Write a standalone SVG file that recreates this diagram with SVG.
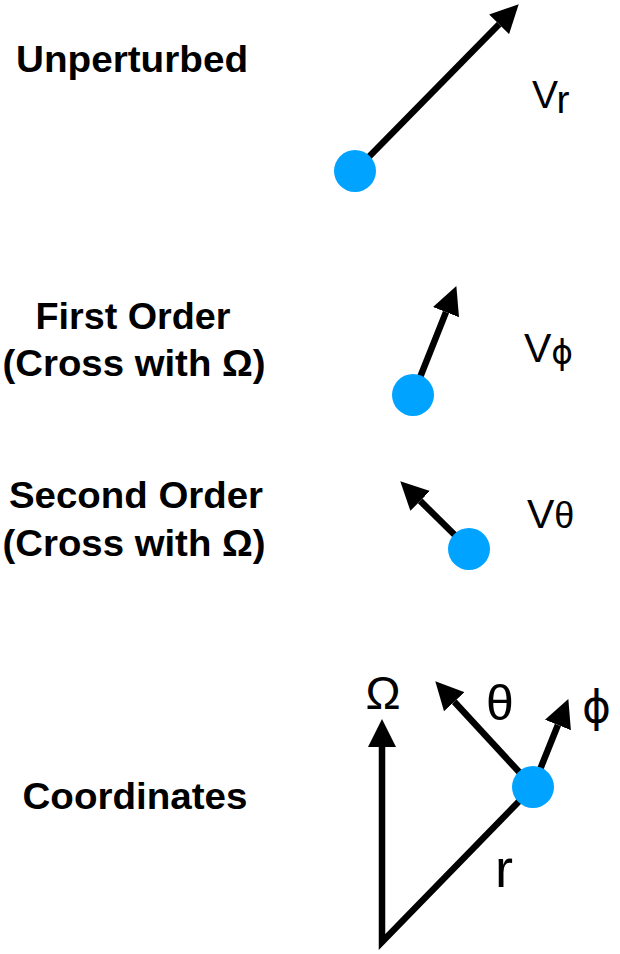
<svg xmlns="http://www.w3.org/2000/svg" width="620" height="954" viewBox="0 0 620 954">
<style>
.lbl{font-family:"Liberation Sans",Arial,sans-serif;font-weight:bold;font-size:36px;fill:#000;text-anchor:middle}
.sym{font-family:"Liberation Sans",Arial,sans-serif;font-weight:normal;fill:#000}
.phi{font-family:"DejaVu Sans","Liberation Sans",sans-serif;font-weight:normal}
.ln{stroke:#000;stroke-width:6.5;fill:none;stroke-linejoin:miter;stroke-miterlimit:10}
.dot{fill:#00a3ff}
</style>
<defs>
<marker id="ah" markerUnits="userSpaceOnUse" markerWidth="28" markerHeight="28" viewBox="0 0 27 27" refX="0" refY="13.5" orient="auto">
<path d="M0,0 L27,13.5 L0,27 z" fill="#000"/>
</marker>
</defs>
<g id="labels">
<text class="lbl" x="132" y="72" textLength="232" lengthAdjust="spacingAndGlyphs">Unperturbed</text>
<text class="lbl" x="133" y="329" textLength="195" lengthAdjust="spacingAndGlyphs">First Order</text>
<text class="lbl" x="134" y="376" textLength="263" lengthAdjust="spacingAndGlyphs">(Cross with Ω)</text>
<text class="lbl" x="136" y="508" textLength="254" lengthAdjust="spacingAndGlyphs">Second Order</text>
<text class="lbl" x="134" y="556" textLength="263" lengthAdjust="spacingAndGlyphs">(Cross with Ω)</text>
<text class="lbl" x="135" y="809" textLength="225" lengthAdjust="spacingAndGlyphs">Coordinates</text>
</g>
<g id="connectors">
<line class="ln" x1="355" y1="171" x2="499.1" y2="24.3" marker-end="url(#ah)"/>
<line class="ln" x1="413" y1="395" x2="446" y2="312.1" marker-end="url(#ah)"/>
<line class="ln" x1="469" y1="549" x2="420.2" y2="500.9" marker-end="url(#ah)"/>
<polyline class="ln" points="533,787 382,942 382,747" marker-end="url(#ah)"/>
<line class="ln" x1="533" y1="787" x2="454.3" y2="701.8" marker-end="url(#ah)"/>
<line class="ln" x1="533" y1="787" x2="557.9" y2="725" marker-end="url(#ah)"/>
</g>
<g id="unperturbed">
<circle class="dot" cx="355" cy="171" r="21"/>
<text class="sym" x="532" y="108" font-size="39">V<tspan dy="5">r</tspan></text>
</g>
<g id="first-order">
<circle class="dot" cx="413" cy="395" r="21"/>
<text class="sym" x="524" y="362" font-size="41">V<tspan class="phi" font-size="33" dy="2">ϕ</tspan></text>
</g>
<g id="second-order">
<circle class="dot" cx="469" cy="549" r="21"/>
<text class="sym" x="527" y="528" font-size="41">V<tspan font-size="36">θ</tspan></text>
</g>
<g id="coordinates">
<circle class="dot" cx="533" cy="787" r="21"/>
<text class="sym" x="383" y="709" font-size="47" text-anchor="middle">Ω</text>
<text class="sym" x="486" y="720" font-size="50">θ</text>
<text class="phi" x="582" y="722" font-size="44">ϕ</text>
<text class="sym" x="495" y="887" font-size="54">r</text>
</g>
</svg>
